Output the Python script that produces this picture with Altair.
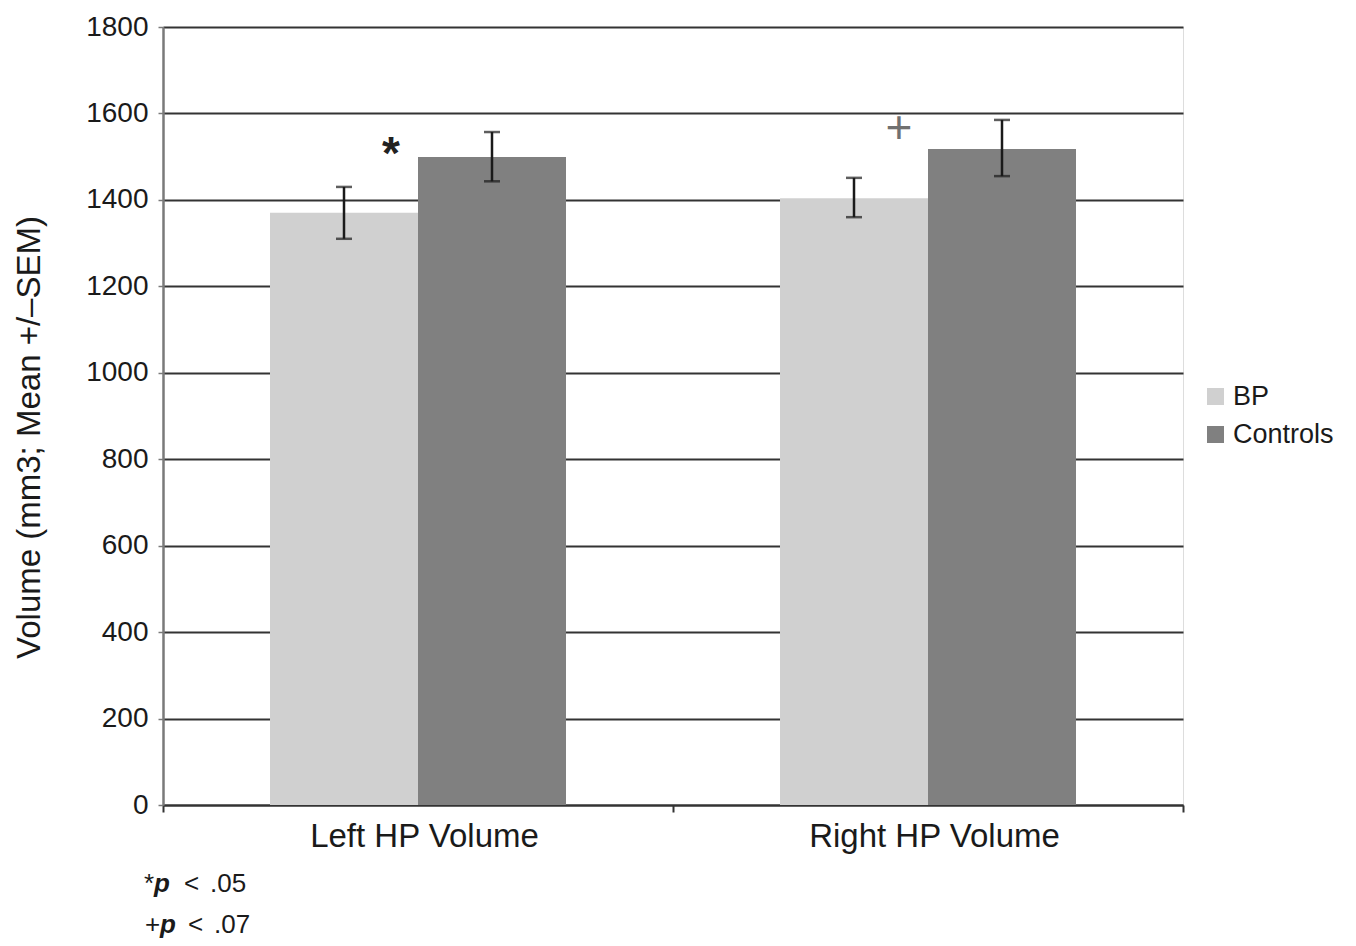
import altair as alt
import pandas as pd

# ---- data ----
groups = ["Left HP Volume", "Left HP Volume", "Right HP Volume", "Right HP Volume"]
series = ["BP", "Controls", "BP", "Controls"]
means = [1370, 1499, 1404, 1518]
err_low = [1310, 1443, 1360, 1455]
err_high = [1430, 1557, 1451, 1585]

sig_groups = ["Left HP Volume", "Right HP Volume"]
sig_marks = ["*", "+"]
sig_y = [1532, 1569]

y_ticks = [0, 200, 400, 600, 800, 1000, 1200, 1400, 1600, 1800]
series_order = ["BP", "Controls"]
series_colors = ["#d0d0d0", "#808080"]

df = pd.DataFrame({"group": groups, "series": series, "mean": means,
                   "low": err_low, "high": err_high})

FONT = "Liberation Sans"
W, H = 1020, 778

x_enc = alt.X("group:N", sort=None,
              scale=alt.Scale(paddingInner=0, paddingOuter=0),
              axis=alt.Axis(title=None, labelAngle=0, labelFontSize=33,
                            labelColor="#1a1a1a", labelPadding=8, labelLimit=0,
                            labelOffset=6,
                            domainColor="#333333", domainWidth=2,
                            tickBand="extent", tickColor="#333333",
                            tickWidth=2, tickSize=7, grid=False))
xoff = alt.XOffset("series:N", sort=series_order,
                   scale=alt.Scale(paddingInner=0, paddingOuter=0.723))
y_scale = alt.Scale(domain=[0, 1800], nice=False)

base = alt.Chart(df)

bars = base.mark_bar().encode(
    x=x_enc,
    xOffset=xoff,
    y=alt.Y("mean:Q", scale=y_scale,
            axis=alt.Axis(values=y_ticks, format="d",
                          title="Volume (mm3; Mean +/\u2013SEM)",
                          titleFontSize=33, titleFontWeight="normal",
                          titleColor="#1a1a1a", titleX=-134, titleY=410,
                          titleAngle=270, titleAlign="center",
                          titleBaseline="middle",
                          labelFontSize=28, labelColor="#1a1a1a",
                          labelPadding=10,
                          domainColor="#7a7a7a", domainWidth=2.5,
                          tickColor="#7a7a7a", tickWidth=1.5, tickSize=5,
                          grid=True, gridColor="#333333", gridWidth=1.8)),
    color=alt.Color("series:N", sort=series_order,
                    scale=alt.Scale(domain=series_order, range=series_colors),
                    legend=alt.Legend(title=None, orient="none",
                                      legendX=1039, legendY=356,
                                      symbolType="square", symbolSize=289,
                                      symbolStrokeWidth=0,
                                      labelFontSize=27, labelColor="#1a1a1a",
                                      labelOffset=4, rowPadding=10)),
)

rules = base.mark_rule(color="#1a1a1a", strokeWidth=2.5).encode(
    x=alt.X("group:N", sort=None), xOffset=xoff,
    y=alt.Y("low:Q", scale=y_scale), y2="high:Q")

cap_lo = base.mark_tick(color="#1a1a1a", thickness=2.5, size=16).encode(
    x=alt.X("group:N", sort=None), xOffset=xoff,
    y=alt.Y("low:Q", scale=y_scale))
cap_hi = base.mark_tick(color="#1a1a1a", thickness=2.5, size=16).encode(
    x=alt.X("group:N", sort=None), xOffset=xoff,
    y=alt.Y("high:Q", scale=y_scale))

star_df = pd.DataFrame({"group": [sig_groups[0]], "t": [sig_marks[0]], "y": [sig_y[0]]})
plus_df = pd.DataFrame({"group": [sig_groups[1]], "t": [sig_marks[1]], "y": [sig_y[1]]})

star = alt.Chart(star_df).mark_text(font=FONT, fontSize=46, fontWeight="bold",
                                    color="#222222", align="center",
                                    baseline="alphabetic", dx=-27, dy=26).encode(
    x=alt.X("group:N", sort=None), y=alt.Y("y:Q", scale=y_scale), text="t:N")
plus = alt.Chart(plus_df).mark_text(font=FONT, fontSize=46, fontWeight="normal",
                                    color="#707070", align="center",
                                    baseline="alphabetic", dx=-29, dy=16).encode(
    x=alt.X("group:N", sort=None), y=alt.Y("y:Q", scale=y_scale), text="t:N")

# footnotes
foot_rows = [
    [("*", -19, "normal", "normal"), ("p", -9, "bold", "italic"),
     ("<", 21, "normal", "normal"), (".05", 47, "normal", "normal")],
    [("+", -18, "normal", "normal"), ("p", -3, "bold", "italic"),
     ("<", 25, "normal", "normal"), (".07", 51, "normal", "normal")],
]
foot_base_y = [865, 906]
foot_layers = []
for row, by in zip(foot_rows, foot_base_y):
    for txt, px, wt, st in row:
        foot_layers.append(
            alt.Chart(pd.DataFrame({"t": [txt]})).mark_text(
                font=FONT, fontSize=26, fontWeight=wt, fontStyle=st,
                color="#1a1a1a", align="left", baseline="alphabetic").encode(
                x=alt.value(px), y=alt.value(by), text="t:N"))

chart = alt.layer(bars, rules, cap_lo, cap_hi, star, plus, *foot_layers).properties(
    width=W, height=H,
    padding={"left": 155, "top": 19, "right": 160, "bottom": 134},
    autosize=alt.AutoSizeParams(type="none"),
).configure_view(stroke=None).configure(font=FONT)

chart.save("out.html", embed_options={"renderer": "svg", "actions": False})
